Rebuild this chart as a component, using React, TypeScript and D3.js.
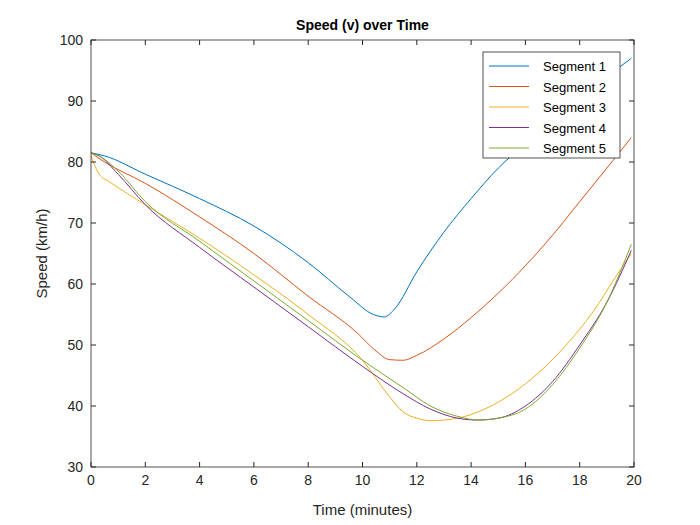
import React from "react";
import * as d3 from "d3";

const seriesNames = ["Segment 1", "Segment 2", "Segment 3", "Segment 4", "Segment 5"];
const colors = ["#0072BD", "#D95319", "#EDB120", "#7E2F8E", "#77AC30"];
const seg1: [number, number][] = [[0,81.5],[0.5,81],[2,78],[4,74],[6,69.5],[8,63.5],[9.5,58],[10.4,55],[10.8,54.6],[11.2,56],[12,62],[13,68.5],[14,74],[15,79],[16,83],[17,87],[18,90.5],[19,94],[19.9,97]];
const seg2: [number, number][] = [[0,81.5],[0.5,80],[2,76.5],[4,71],[6,65],[8,58],[9.8,52],[10.5,49],[11,47.6],[11.5,47.5],[12,48.3],[13,51],[14,54.5],[15,58.5],[16,63],[17,68],[18,73.5],[19,79],[19.9,84]];
const seg3: [number, number][] = [[0,81],[0.3,78],[0.7,76.7],[2,73],[4,67.5],[6,61.5],[8,55],[10,47.5],[11,41.5],[11.5,39],[12,38],[12.5,37.6],[13.5,38],[14.5,39.5],[15.5,42],[16.5,45.5],[17.5,50],[18.5,55.5],[19.3,61],[19.9,65]];
const seg4: [number, number][] = [[0,81.5],[0.3,81],[1,78],[2,73],[4,66],[6,59.5],[8,53],[10,46.5],[11.5,42],[12.5,39.5],[13.5,38],[14.2,37.7],[15,38],[16,40],[17,44],[18,50],[19,57],[19.9,65.5]];
const seg5: [number, number][] = [[0,81.5],[0.3,81],[1,78.5],[2,73.5],[4,67],[6,60.5],[8,54],[10,47.5],[11.5,43],[12.5,40],[13.5,38.3],[14.3,37.7],[15,38],[16,39.5],[17,43.5],[18,49.5],[19,57],[19.9,66.5]];
const allSeries = [seg1, seg2, seg3, seg4, seg5];
const xTicks = [0,2,4,6,8,10,12,14,16,18,20];
const yTicks = [30,40,50,60,70,80,90,100];

export default function App() {
  const L = 91, R = 634, T = 40, B = 467;
  const x = d3.scaleLinear().domain([0, 20]).range([L, R]);
  const y = d3.scaleLinear().domain([30, 100]).range([B, T]);
  const line = d3.line<[number, number]>().x(d => x(d[0])).y(d => y(d[1])).curve(d3.curveMonotoneX);
  const font = "Arial, Liberation Sans, sans-serif";
  return (
    <svg width={700} height={525} style={{ position: "absolute", left: 0, top: 0, background: "#fff" }} fontFamily={font}>
      <rect x={0} y={0} width={700} height={525} fill="#fff" />
      <rect x={L} y={T} width={R - L} height={B - T} fill="#fff" />
      <g clipPath="url(#c)">
        <clipPath id="c"><rect x={L} y={T} width={R - L} height={B - T} /></clipPath>
        {allSeries.map((s, i) => <path key={i} d={line(s) || ""} fill="none" stroke={colors[i]} strokeWidth={1} />)}
      </g>
      <rect x={L} y={T} width={R - L} height={B - T} fill="none" stroke="#262626" strokeWidth={0.8} />
      {xTicks.map(t => (
        <g key={t}>
          <line x1={x(t)} x2={x(t)} y1={B} y2={B - 5} stroke="#262626" />
          <line x1={x(t)} x2={x(t)} y1={T} y2={T + 5} stroke="#262626" />
          <text x={x(t)} y={B + 18} textAnchor="middle" fontSize={14} fill="#262626">{t}</text>
        </g>
      ))}
      {yTicks.map(t => (
        <g key={t}>
          <line x1={L} x2={L + 5} y1={y(t)} y2={y(t)} stroke="#262626" />
          <line x1={R} x2={R - 5} y1={y(t)} y2={y(t)} stroke="#262626" />
          <text x={L - 8} y={y(t) + 5} textAnchor="end" fontSize={14} fill="#262626">{t}</text>
        </g>
      ))}
      <text x={(L + R) / 2} y={30} textAnchor="middle" fontSize={14} fontWeight="bold" fill="#000">Speed (v) over Time</text>
      <text x={(L + R) / 2} y={515} textAnchor="middle" fontSize={15} fill="#262626">Time (minutes)</text>
      <text transform={`translate(47,${(T + B) / 2}) rotate(-90)`} textAnchor="middle" fontSize={15} fill="#262626">Speed (km/h)</text>
      <rect x={483} y={52} width={137} height={106} fill="#fff" stroke="#262626" strokeWidth={0.8} />
      {seriesNames.map((n, i) => (
        <g key={n}>
          <line x1={489} x2={529} y1={66 + i * 20.5} y2={66 + i * 20.5} stroke={colors[i]} />
          <text x={543} y={71 + i * 20.5} fontSize={13} fill="#000">{n}</text>
        </g>
      ))}
    </svg>
  );
}
